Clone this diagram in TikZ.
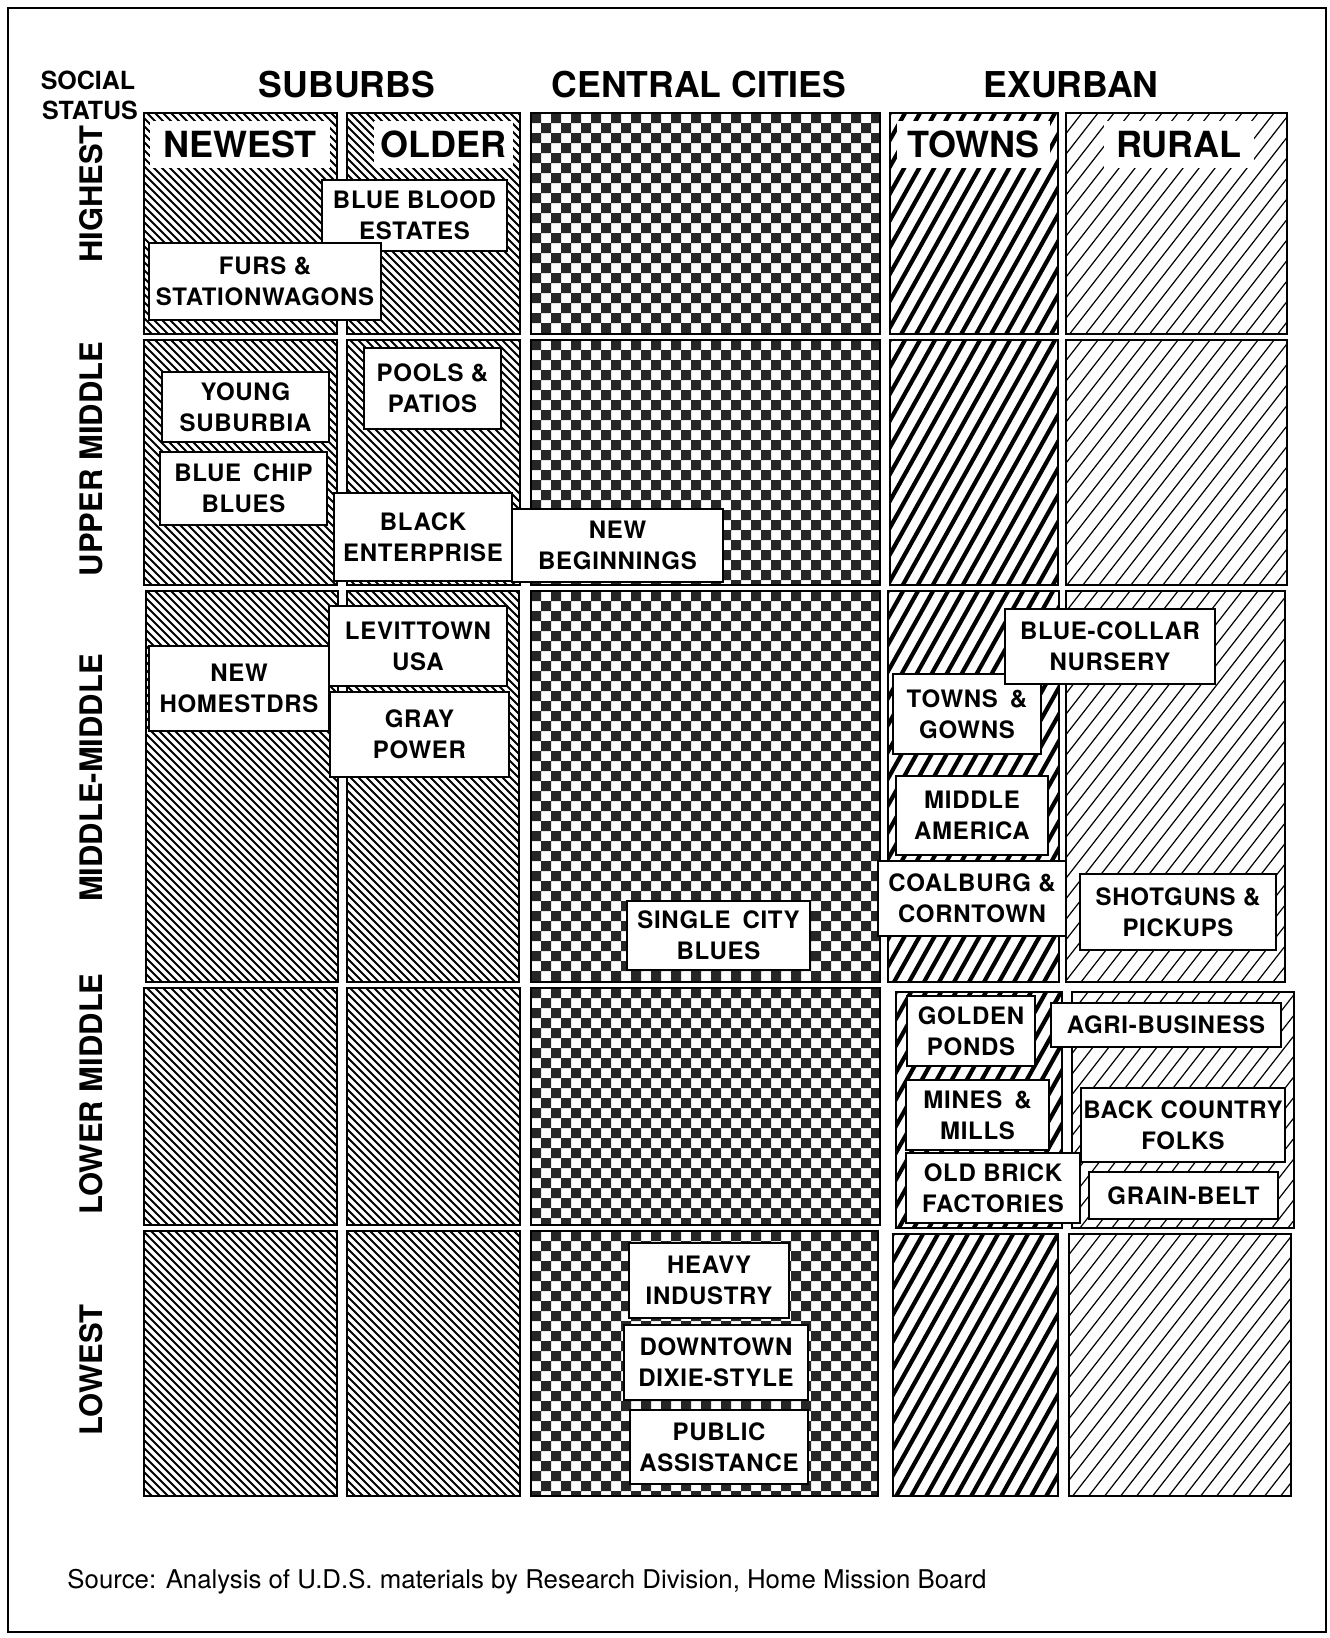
\documentclass[tikz,border=0pt]{standalone}
\usepackage{fontspec}
\setmainfont{TeX Gyre Heros}
\newfontfamily\lblfont[LetterSpace=3]{TeX Gyre Heros}
\newcommand\bscell[4]{%
  \begin{scope}
    \clip (#1,#2) rectangle (#3,#4);
    \pgfmathsetmacro\hH{#4-#2}
    \pgfmathsetmacro\sA{#1-\hH}
    \pgfmathsetmacro\sB{\sA+8}
    \foreach \s in {\sA,\sB,...,#3} \draw[subhatch] (\s,#2) -- ++(\hH,\hH);
  \end{scope}
  \draw[cellborder] (#1,#2) rectangle (#3,#4);}
\newcommand\twcell[4]{%
  \begin{scope}
    \clip (#1,#2) rectangle (#3,#4);
    \pgfmathsetmacro\hH{#4-#2}
    \pgfmathsetmacro\kH{0.56*\hH}
    \pgfmathsetmacro\sA{#1-\kH}
    \pgfmathsetmacro\sB{\sA+15}
    \foreach \s in {\sA,\sB,...,#3} \draw[townhatch] (\s,#4) -- ++(\kH,-\hH);
  \end{scope}
  \draw[cellborder] (#1,#2) rectangle (#3,#4);}
\newcommand\rucell[4]{%
  \begin{scope}
    \clip (#1,#2) rectangle (#3,#4);
    \pgfmathsetmacro\hH{#4-#2}
    \pgfmathsetmacro\kH{0.78*\hH}
    \pgfmathsetmacro\sA{#1-\kH}
    \pgfmathsetmacro\sB{\sA+16}
    \foreach \s in {\sA,\sB,...,#3} \draw[ruralhatch] (\s,#4) -- ++(\kH,-\hH);
  \end{scope}
  \draw[cellborder] (#1,#2) rectangle (#3,#4);}
\newcommand\cccell[4]{%
  \begin{scope}
    \clip (#1,#2) rectangle (#3,#4);
    \pgfmathtruncatemacro\nR{(#4-#2)/10+1}
    \pgfmathtruncatemacro\nC{(#3-#1)/20+1}
    \fill[checkfill] \foreach \r in {0,...,\nR} { \foreach \c in {0,...,\nC} {
      ({#1+(2*\c+mod(\r,2))*10},{#2+\r*10}) rectangle ++(10,10) } };
  \end{scope}
  \draw[cellborder] (#1,#2) rectangle (#3,#4);}
\newcommand\tagbox[6]{%
  \pgfmathsetmacro\bw{(#4-#2)*0.5}\pgfmathsetmacro\bh{(#5-#3)*0.5}%
  \node[lbl,minimum width=\bw pt,minimum height=\bh pt] (#1) at ({(#2+#4)/2},{(#3+#5)/2}) {#6};}
\newcommand\subhead[6]{%
  \pgfmathsetmacro\bw{(#4-#2)*0.5}\pgfmathsetmacro\bh{(#5-#3)*0.5}%
  \node[hdr,minimum width=\bw pt,minimum height=\bh pt] (#1) at ({(#2+#4)/2},{(#3+#5)/2}) {#6};}
\begin{document}
\begin{tikzpicture}[x=0.5pt,y=-0.5pt,
  cellborder/.style={line width=1pt},
  subhatch/.style={line width=0.95pt},
  townhatch/.style={line width=2.1pt},
  ruralhatch/.style={line width=0.6pt},
  checkfill/.style={fill=black!85},
  lbl/.style={draw,line width=1pt,fill=white,inner sep=0pt,align=center,
    font=\lblfont\bfseries\fontsize{12}{15.5}\selectfont},
  hdr/.style={fill=white,inner sep=0pt,font=\bfseries\fontsize{18}{18}\selectfont},
  head/.style={font=\bfseries\fontsize{17.8}{18}\selectfont},
  rowlbl/.style={rotate=90,font=\bfseries\fontsize{15.5}{16}\selectfont},
  soc/.style={font=\bfseries\fontsize{12.5}{15}\selectfont},
  src/.style={font=\fontsize{12.9}{15}\selectfont}]
\useasboundingbox (0,0) rectangle (1329,1638);
\draw[line width=1pt] (8,8) rectangle (1326,1632);
% headings
\node[soc] (social) at (88,80) {SOCIAL};
\node[soc] (status) at (90,110) {STATUS};
\node[head] (suburbs) at (347,85) {SUBURBS};
\node[head] (central) at (699,85) {CENTRAL CITIES};
\node[head] (exurban) at (1071,85) {EXURBAN};
\node[rowlbl] (highest) at (91,194) {HIGHEST};
\node[rowlbl] (upper) at (91,459) {UPPER MIDDLE};
\node[rowlbl] (middle) at (91,778) {MIDDLE-MIDDLE};
\node[rowlbl] (lower) at (91,1094) {LOWER MIDDLE};
\node[rowlbl] (lowest) at (91,1370) {LOWEST};
% row 1
\bscell{144}{113}{337}{334}
\bscell{347}{113}{520}{334}
\cccell{531}{113}{880}{334}
\twcell{890}{113}{1058}{334}
\rucell{1066}{113}{1287}{334}
% row 2
\bscell{144}{340}{337}{585}
\bscell{347}{340}{520}{585}
\cccell{531}{340}{880}{585}
\twcell{890}{340}{1058}{585}
\rucell{1066}{340}{1287}{585}
% row 3
\bscell{146}{591}{338}{982}
\bscell{347}{591}{519}{982}
\cccell{531}{591}{880}{982}
\twcell{888}{591}{1059}{982}
\rucell{1066}{591}{1285}{982}
% row 4
\bscell{144}{988}{337}{1225}
\bscell{347}{988}{520}{1225}
\cccell{531}{988}{880}{1225}
\twcell{896}{992}{1062}{1228}
\rucell{1072}{992}{1294}{1228}
% row 5
\bscell{144}{1231}{337}{1496}
\bscell{347}{1231}{520}{1496}
\cccell{531}{1231}{878}{1496}
\twcell{893}{1234}{1058}{1496}
\rucell{1069}{1234}{1291}{1496}
% sub headings
\subhead{newest}{150}{121}{330}{168}{NEWEST}
\subhead{older}{374}{121}{513}{168}{OLDER}
\subhead{towns}{897}{121}{1050}{168}{TOWNS}
\subhead{rural}{1104}{121}{1254}{168}{RURAL}
% labels
\tagbox{bb}{322}{180}{507}{251}{BLUE BLOOD\\ESTATES}
\tagbox{furs}{149}{243}{381}{320}{FURS \&\\STATIONWAGONS}
\tagbox{pools}{364}{348}{501}{429}{POOLS \&\\PATIOS}
\tagbox{young}{162}{372}{329}{442}{YOUNG\\SUBURBIA}
\tagbox{chip}{160}{452}{327}{525}{BLUE\enspace CHIP\\BLUES}
\tagbox{black}{334}{493}{512}{581}{BLACK\\ENTERPRISE}
\tagbox{newbeg}{512}{509}{723}{582}{NEW\\BEGINNINGS}
\tagbox{levit}{329}{606}{507}{686}{LEVITTOWN\\USA}
\tagbox{homest}{149}{646}{329}{731}{NEW\\HOMESTDRS}
\tagbox{gray}{330}{692}{509}{777}{GRAY\\POWER}
\tagbox{single}{627}{901}{810}{970}{SINGLE\enspace CITY\\BLUES}
\tagbox{gowns}{893}{674}{1041}{754}{TOWNS\enspace \&\\GOWNS}
\tagbox{collar}{1005}{609}{1215}{684}{BLUE-COLLAR\\NURSERY}
\tagbox{america}{896}{776}{1048}{855}{MIDDLE\\AMERICA}
\tagbox{coal}{878}{861}{1066}{936}{COALBURG \&\\CORNTOWN}
\tagbox{shot}{1080}{874}{1276}{950}{SHOTGUNS \&\\PICKUPS}
\tagbox{golden}{907}{996}{1035}{1066}{GOLDEN\\PONDS}
\tagbox{agri}{1051}{1003}{1281}{1047}{AGRI-BUSINESS}
\tagbox{mines}{906}{1080}{1049}{1150}{MINES\enspace \&\\MILLS}
\tagbox{back}{1081}{1088}{1285}{1162}{BACK COUNTRY\\FOLKS}
\tagbox{brick}{906}{1153}{1080}{1223}{OLD BRICK\\FACTORIES}
\tagbox{grain}{1089}{1172}{1278}{1219}{GRAIN-BELT}
\tagbox{heavy}{629}{1243}{789}{1318}{HEAVY\\INDUSTRY}
\tagbox{dixie}{624}{1325}{808}{1400}{DOWNTOWN\\DIXIE-STYLE}
\tagbox{public}{630}{1410}{808}{1484}{PUBLIC\\ASSISTANCE}
% source
\node[src] (source) at (527,1582) {Source: Analysis of U.D.S. materials by Research Division, Home Mission Board};
\end{tikzpicture}
\end{document}
